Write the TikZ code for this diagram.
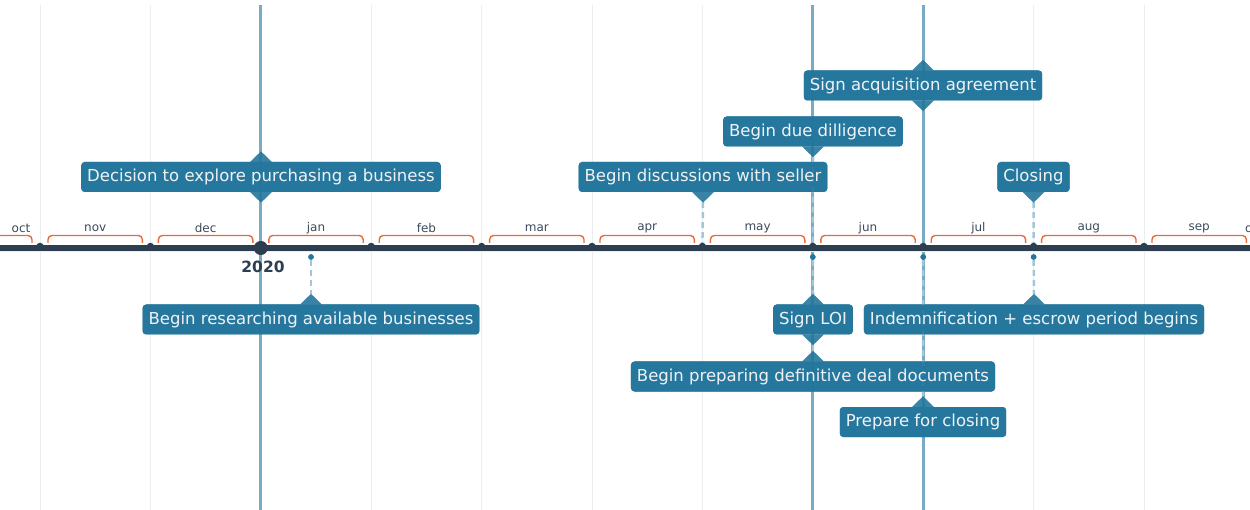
\documentclass[tikz,border=0pt]{standalone}
\usepackage{fontspec}
\setmainfont{DejaVu Sans}
\usetikzlibrary{calc}
\definecolor{axisc}{HTML}{2C3E50}
\definecolor{boxc}{HTML}{23769C}
\definecolor{vlinec}{HTML}{78ABC4}
\definecolor{dashc}{HTML}{A3C6D8}
\definecolor{bracec}{HTML}{E36B3D}
\definecolor{gridc}{HTML}{EBEEF0}
\definecolor{monthc}{HTML}{3B4A5A}
\definecolor{boxtext}{HTML}{EEF1F4}
\newcommand\tlptrdown[1]{\fill[boxc,fill opacity=0.9] ($(#1.south)+(-11,-0.3)$) -- ($(#1.south)+(0,10.5)$) -- ($(#1.south)+(11,-0.3)$) -- cycle;}
\newcommand\tlptrup[1]{\fill[boxc,fill opacity=0.9] ($(#1.north)+(-11,0.3)$) -- ($(#1.north)+(0,-10.5)$) -- ($(#1.north)+(11,0.3)$) -- cycle;}
\begin{document}
\begin{tikzpicture}[x=1pt,y=-1pt,
  evbox/.style={fill=boxc, fill opacity=0.9, text opacity=1, text=boxtext, rounded corners=3.5pt,
    inner xsep=6pt, inner ysep=0pt, minimum height=30pt, font=\fontsize{16.5}{19}\selectfont},
  gridline/.style={gridc, line width=1pt},
  fullline/.style={vlinec, line width=3pt},
  conn/.style={dashc, line width=2.5pt, dash pattern=on 6pt off 4pt},
  bracepath/.style={bracec, line width=1.4pt, rounded corners=4pt},
  monthlbl/.style={text=monthc, font=\fontsize{12}{14}\selectfont, inner sep=0pt},
  tickdot/.style={circle, fill=axisc, inner sep=0pt, minimum size=7.5pt},
  evdot/.style={circle, fill=boxc, inner sep=0pt, minimum size=5.5pt}]
\useasboundingbox (0,0) rectangle (1250,510);
% grid
\foreach \k in {0,...,10} {\draw[gridline] ({40+110.4*\k},5) -- ({40+110.4*\k},510);}
% full vertical lines
\draw[fullline] (260.8,5) -- (260.8,510);
\draw[fullline] (812.8,5) -- (812.8,510);
\draw[fullline] (923.2,5) -- (923.2,510);
% braces and month labels
\foreach \k in {-1,...,10} {\draw[bracepath] ({40+110.4*\k+8},243) -- ({40+110.4*\k+8},235.5) -- ({40+110.4*(\k+1)-8},235.5) -- ({40+110.4*(\k+1)-8},243);}
\foreach \m [count=\k from 0] in {nov,dec,jan,feb,mar,apr,may,jun,jul,aug,sep} {\node[monthlbl] (m\k) at ({40+110.4*(\k+0.5)},228.5) {\m};}
\node[monthlbl] (moct) at (21,228.5) {oct};
\node[monthlbl, anchor=west] (moct2) at (1245,228.5) {oct};
% event boxes (placed first to define anchors)
\node[evbox] (e1) at (261,177) {Decision to explore purchasing a business};
\node[evbox] (e2) at (703,177) {Begin discussions with seller};
\node[evbox] (e3) at (813,131.5) {Begin due dilligence};
\node[evbox] (e4) at (923,85.5) {Sign acquisition agreement};
\node[evbox] (e5) at (1033.5,177) {Closing};
\node[evbox] (f1) at (311,319.5) {Begin researching available businesses};
\node[evbox] (f2) at (813,319.5) {Sign LOI};
\node[evbox] (f3) at (1034,319.5) {Indemnification + escrow period begins};
\node[evbox] (f4) at (813,376.5) {Begin preparing definitive deal documents};
\node[evbox] (f5) at (923,422) {Prepare for closing};
% pointer tips
\coordinate (e2tip) at ($(e2.south)+(0,10)$);
\coordinate (e5tip) at ($(e5.south)+(0,10)$);
\coordinate (e3tip) at ($(e3.south)+(0,10)$);
\coordinate (f1tip) at ($(f1.north)+(0,-10)$);
\coordinate (f2tip) at ($(f2.north)+(0,-10)$);
\coordinate (f2btm) at ($(f2.south)+(0,10)$);
\coordinate (f3tip) at ($(f3.north)+(0,-10)$);
\coordinate (f4tip) at ($(f4.north)+(0,-10)$);
\coordinate (f5tip) at ($(f5.north)+(0,-10)$);
% axis points
\coordinate (a2) at (702.4,243);
\coordinate (a3) at (812.8,243);
\coordinate (a5) at (1033.6,243);
\node[evdot] (b1) at (311,257) {};
\node[evdot] (b2) at (812.8,257) {};
\node[evdot] (b4) at (923.2,257) {};
\node[evdot] (b3) at (1033.6,257) {};
% connectors
\draw[conn] (e2tip) -- (a2);
\draw[conn] (e5tip) -- (a5);
\draw[conn] (e3tip) -- (a3);
\draw[conn] (b1) -- (f1tip);
\draw[conn] (b2) -- (f2tip);
\draw[conn] (f2btm) -- (f4tip);
\draw[conn] (b3) -- (f3tip);
\draw[conn] (b4) -- (f5tip);
% axis
\draw[gridc, line width=1pt] (0,252) -- (1250,252);
\draw[axisc, line width=6pt] (0,248) -- (1250,248);
\foreach \k in {0,1,3,4,5,6,7,8,9,10} {\node[tickdot] (t\k) at ({40+110.4*\k},246.5) {};}
\node[circle, fill=axisc, inner sep=0pt, minimum size=14pt] (t2) at (260.8,248) {};
\node[text=axisc, font=\bfseries\fontsize{15.5}{17}\selectfont, inner sep=0pt] (yr) at (263,267) {2020};
% dots below axis on top
\node[evdot] at (b1) {};
\node[evdot] at (b2) {};
\node[evdot] at (b3) {};
\node[evdot] at (b4) {};
% pointers
\tlptrup{e1}\tlptrdown{e1}
\tlptrdown{e2}
\tlptrdown{e3}
\tlptrup{e4}\tlptrdown{e4}
\tlptrdown{e5}
\tlptrup{f1}
\tlptrup{f2}\tlptrdown{f2}
\tlptrup{f3}
\tlptrup{f4}
\tlptrup{f5}
% boxes on top
\node[evbox] at (e1) {Decision to explore purchasing a business};
\node[evbox] at (e2) {Begin discussions with seller};
\node[evbox] at (e3) {Begin due dilligence};
\node[evbox] at (e4) {Sign acquisition agreement};
\node[evbox] at (e5) {Closing};
\node[evbox] at (f1) {Begin researching available businesses};
\node[evbox] at (f2) {Sign LOI};
\node[evbox] at (f3) {Indemnification + escrow period begins};
\node[evbox] at (f4) {Begin preparing definitive deal documents};
\node[evbox] at (f5) {Prepare for closing};
\end{tikzpicture}
\end{document}
